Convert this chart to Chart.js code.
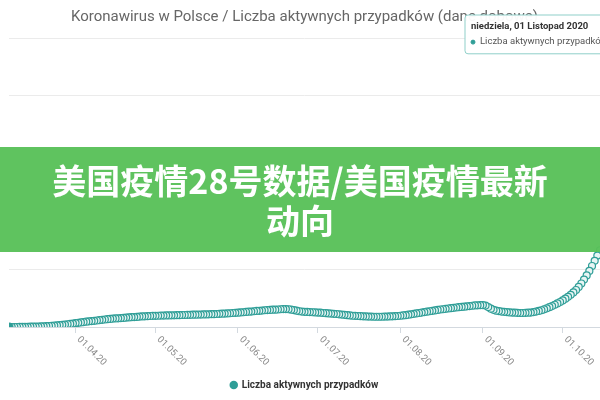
<!DOCTYPE html>
<html>
<head>
<meta charset="utf-8">
<script src="https://cdn.jsdelivr.net/npm/chart.js@4"></script>
<style>
  html, body { margin: 0; padding: 0; background: #fff; overflow: hidden; }
  #wrap { position: relative; width: 600px; height: 400px; overflow: hidden; }
  #chart { position: absolute; left: 0; top: 0; }
  .banner {
    position: absolute; left: 0; top: 147px; width: 600px; height: 105px;
    box-sizing: border-box; padding: 13px 40px 0;
    background: rgba(88, 193, 88, 0.96); color: #fff;
    font-family: "Noto Sans CJK SC", sans-serif; font-weight: 700;
    font-size: 34px; line-height: 40px; text-align: center;
  }
</style>
</head>
<body>
<div id="wrap">
  <canvas id="chart" width="700" height="400"></canvas>
  <div class="banner">美国疫情28号数据/美国疫情最新动向</div>
</div>
<script>
const startDate = '2020-03-07';
const dayCount = 240;          // 07.03.20 .. 01.11.20
const lastShown = '2020-10-15';
const hoverDate = '2020-11-01';
const seriesLabel = 'Liczba aktywnych przypadków';

// one value per day from 07.03.20
const activeCases = [
  0, 0, 0, 0, 100, 100, 100, 100, 200, 200,
  300, 300, 400, 500, 600, 700, 800, 1000, 1100, 1300,
  1500, 1700, 1900, 2100, 2400, 2700, 2900, 3200, 3400, 3700,
  3900, 4100, 4300, 4500, 4800, 5000, 5200, 5400, 5600, 5800,
  5900, 6000, 6200, 6300, 6500, 6600, 6800, 6900, 7000, 7200,
  7300, 7400, 7500, 7600, 7700, 7700, 7800, 7900, 7900, 8000,
  8000, 8100, 8100, 8200, 8200, 8300, 8300, 8400, 8400, 8500,
  8500, 8600, 8600, 8700, 8700, 8800, 8900, 8900, 9000, 9100,
  9200, 9300, 9400, 9500, 9700, 9800, 9900, 10100, 10200, 10400,
  10600, 10700, 10900, 11100, 11200, 11400, 11600, 11700, 11800, 12000,
  12000, 12100, 12300, 12400, 12400, 12300, 12000, 11700, 11300, 10900,
  10700, 10500, 10400, 10300, 10200, 10100, 10000, 9900, 9700, 9600,
  9400, 9300, 9100, 9000, 8800, 8600, 8400, 8200, 8000, 7800,
  7700, 7600, 7500, 7400, 7300, 7200, 7200, 7100, 7100, 7100,
  7100, 7200, 7200, 7300, 7400, 7500, 7600, 7800, 8000, 8200,
  8500, 8800, 9100, 9400, 9700, 10000, 10300, 10600, 10900, 11200,
  11500, 11800, 12100, 12300, 12600, 12800, 13000, 13300, 13500, 13700,
  13900, 14100, 14300, 14500, 14700, 14900, 15000, 15100, 15200, 14800,
  13800, 12700, 11900, 11300, 11000, 10700, 10500, 10300, 10100, 10000,
  9900, 9800, 9700, 9700, 9800, 9900, 10000, 10300, 10700, 11100,
  11600, 12200, 12900, 13700, 14500, 15400, 16300, 17300, 18400, 19600,
  20900, 22300, 23900, 25600, 27700, 30100, 32800, 35700, 38800, 42200,
  45800, 49400, 53100
];

const weekdaysPl = ['niedziela', 'poniedziałek', 'wtorek', 'środa', 'czwartek', 'piątek', 'sobota'];
const monthsPl = ['Styczeń', 'Luty', 'Marzec', 'Kwiecień', 'Maj', 'Czerwiec', 'Lipiec',
  'Sierpień', 'Wrzesień', 'Październik', 'Listopad', 'Grudzień'];

const days = [];
for (let i = 0; i < dayCount; i++) {
  days.push(new Date(Date.parse(startDate) + i * 86400000).toISOString().slice(0, 10));
}

const teal = '#2f9e97';

function shortDate(iso) {
  const [y, m, d] = iso.split('-');
  return d + '.' + m + '.' + y.slice(2);
}
function longDate(iso) {
  const d = new Date(iso + 'T00:00:00Z');
  return weekdaysPl[d.getUTCDay()] + ', ' + iso.slice(8) + ' ' + monthsPl[d.getUTCMonth()] + ' ' + iso.slice(0, 4);
}

// newest first, so older points are painted over newer ones like in the source
const labels = days.slice().reverse();
const values = days.map((d, i) => i < activeCases.length ? activeCases[i] : null).reverse();
const firstIndex = labels.length - 1;

// x labels slanted down to the right, starting at the tick
const slantedTicks = {
  id: 'slantedTicks',
  afterDraw(chart) {
    const scale = chart.scales.x;
    const ctx = chart.ctx;
    ctx.save();
    ctx.font = '9.5px Roboto';
    ctx.fillStyle = '#8a8a8a';
    ctx.textAlign = 'left';
    ctx.textBaseline = 'middle';
    scale.ticks.forEach((tick, i) => {
      if (!tick.label) return;
      ctx.save();
      ctx.translate(scale.getPixelForTick(i) + 3, scale.top + 11);
      ctx.rotate(Math.PI / 4);
      ctx.fillText(tick.label, 0, 0);
      ctx.restore();
    });
    ctx.restore();
  }
};

Chart.Tooltip.positioners.topRight = function () {
  return { x: 468, y: 15 };
};

Chart.defaults.font.family = 'Roboto';

const chart = new Chart(document.getElementById('chart'), {
  type: 'line',
  data: {
    labels: labels,
    datasets: [{
      label: seriesLabel,
      data: values,
      showLine: false,
      borderColor: teal,
      backgroundColor: teal,
      pointRadius: c => c.dataIndex === firstIndex ? 4 : 3.5,
      pointBorderWidth: 1.2,
      pointBorderColor: teal,
      pointBackgroundColor: c => c.dataIndex === firstIndex ? teal : '#e8f5f4'
    }]
  },
  options: {
    responsive: false,
    animation: false,
    events: [],
    layout: { padding: { left: 9, right: 100 } },
    scales: {
      x: {
        reverse: true,
        min: lastShown,
        max: startDate,
        border: { color: '#d3d9df' },
        grid: {
          drawOnChartArea: false,
          tickLength: 6,
          tickColor: c => (c.tick && c.tick.label) ? '#d3d9df' : 'rgba(0,0,0,0)'
        },
        ticks: {
          autoSkip: false,
          maxRotation: 0,
          color: 'rgba(0,0,0,0)',
          font: { size: 9 },
          callback: function (v) {
            const iso = this.getLabelForValue(v);
            return iso.endsWith('-01') ? shortDate(iso) : '';
          }
        },
        afterFit: s => { s.height = 43; }
      },
      y: {
        min: 0,
        max: 200000,
        border: { display: false },
        grid: { color: '#ebebeb', drawTicks: false },
        ticks: { display: false, stepSize: 40000 }
      }
    },
    plugins: {
      title: {
        display: true,
        text: 'Koronawirus w Polsce / Liczba aktywnych przypadków (dane dobowe)',
        color: '#666',
        font: { size: 15, weight: 'normal' },
        padding: { top: 8, bottom: 12 }
      },
      legend: {
        position: 'bottom',
        labels: {
          usePointStyle: true,
          pointStyle: 'circle',
          boxWidth: 6,
          boxHeight: 6,
          color: '#333',
          font: { size: 10, weight: 'bold' },
          generateLabels: ch => Chart.defaults.plugins.legend.labels.generateLabels(ch)
            .map(item => Object.assign(item, { fillStyle: teal, strokeStyle: teal, lineWidth: 0 }))
        }
      },
      tooltip: {
        position: 'topRight',
        xAlign: 'left',
        yAlign: 'top',
        caretSize: 0,
        caretPadding: 0,
        backgroundColor: 'rgba(255,255,255,0.96)',
        borderColor: '#8fcfc9',
        borderWidth: 1,
        cornerRadius: 3,
        padding: 6,
        titleColor: '#333',
        titleFont: { size: 9.5, weight: 'bold' },
        titleMarginBottom: 4,
        bodyColor: '#555',
        bodyFont: { size: 9.5 },
        usePointStyle: true,
        boxWidth: 4,
        boxHeight: 4,
        boxPadding: 3,
        callbacks: {
          title: items => longDate(items[0].label),
          labelColor: () => ({ borderColor: teal, backgroundColor: teal }),
          labelPointStyle: () => ({ pointStyle: 'circle', rotation: 0 })
        }
      }
    }
  },
  plugins: [slantedTicks]
});

chart.tooltip.setActiveElements([{ datasetIndex: 0, index: labels.indexOf(hoverDate) }], { x: 468, y: 15 });
chart.update();
</script>
</body>
</html>
